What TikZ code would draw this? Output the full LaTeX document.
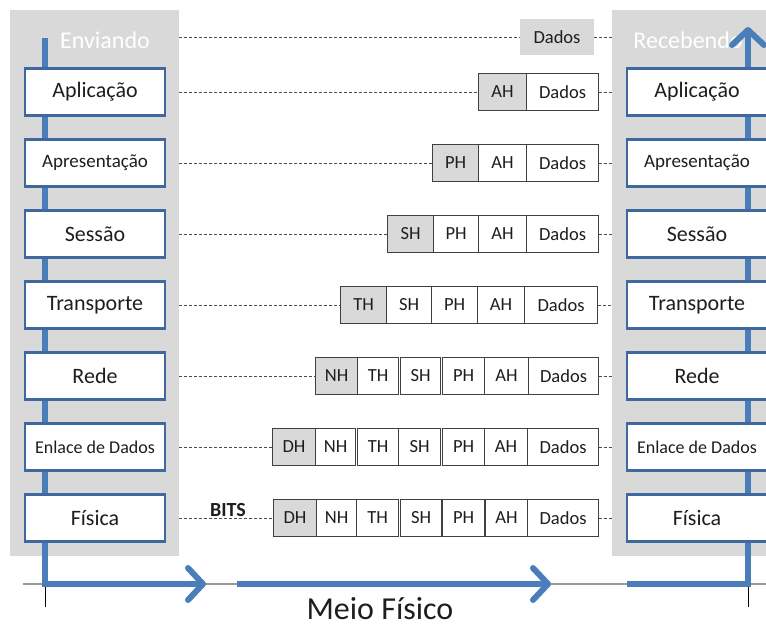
\documentclass[tikz,border=0pt]{standalone}
\usepackage{fontspec}
\setmainfont{Carlito}
\usetikzlibrary{arrows.meta}

\definecolor{painel}{RGB}{217,217,217}
\definecolor{cinza}{RGB}{217,217,217}
\definecolor{azul}{RGB}{74,126,187}
\definecolor{borda}{RGB}{62,104,158}
\definecolor{texto}{RGB}{30,30,30}

\tikzset{
  painelbox/.style={fill=painel, inner sep=0pt, anchor=north west},
  camada/.style={draw=borda, line width=2.6pt, fill=white, minimum width=140pt,
    minimum height=47pt, inner sep=0pt, text=texto},
  cel/.style={draw=black!75, line width=1.1pt, minimum height=37pt, inner sep=0pt,
    anchor=west, text=texto, font=\fontsize{18.5}{20}\selectfont},
  tracejado/.style={black!70, line width=0.9pt, dash pattern=on 3pt off 2pt},
  fluxo/.style={azul, line width=6pt},
  ponta/.style={-{Straight Barb[length=15pt,width=32pt,round]}},
  fino/.style={line width=1.2pt}
}

\begin{document}
\begin{tikzpicture}[x=1pt, y=-1pt]
  \useasboundingbox (0,0) rectangle (766,624);
  \clip (0,0) rectangle (766,624);

  % paineis
  \node[painelbox, minimum width=169pt, minimum height=546pt] (envio) at (10,10) {};
  \node[painelbox, minimum width=170pt, minimum height=546pt] (receb) at (612,10) {};
  \node[text=white, font=\fontsize{24}{24}\selectfont] (enviando) at (105,40) {Enviando};
  \node[text=white, font=\fontsize{24}{24}\selectfont] (recebendo) at (688,40) {Recebendo};

  % meio fisico
  \draw[gray!80, fino] (23,584) -- (766,584);
  \draw[black, line width=0.8pt] (45,584) -- (45,607);
  \draw[black, line width=0.8pt] (748,584) -- (748,607);
  \node[font=\fontsize{32}{32}\selectfont, text=texto, inner sep=0pt, anchor=base] (meio) at (380,619) {Meio Físico};

  % fluxo azul
  \coordinate (ini) at (45,38);
  \coordinate (dobraE) at (45,584);
  \coordinate (setaA) at (206,584);
  \coordinate (meioA) at (237,584);
  \coordinate (meioB) at (551,584);
  \coordinate (iniR) at (627,584);
  \coordinate (dobraR) at (748,584);
  \coordinate (fim) at (748,27);
  \draw[fluxo, ponta] (ini) -- (dobraE) -- (setaA);
  \draw[fluxo, ponta] (meioA) -- (meioB);
  \draw[fluxo, ponta] (iniR) -- (dobraR) -- (fim);

  % camadas
  \foreach \nome/\y/\txt/\tam in {apl/92/Aplicação/22, aps/163/Apresentação/19,
      ses/234/Sessão/22, tra/305/Transporte/22, red/376/Rede/22,
      enl/447/Enlace de Dados/18, fis/518/Física/22}
  {
    \node[camada, font=\fontsize{\tam}{\tam}\selectfont] (\nome-e) at (95,\y) {\txt};
    \node[camada, font=\fontsize{\tam}{\tam}\selectfont] (\nome-r) at (697,\y) {\txt};
  }

  % pacotes
  \node[fill=cinza, minimum width=74pt, minimum height=36pt, inner sep=0pt,
    text=texto, font=\fontsize{18.5}{20}\selectfont] (dados0) at (557,37) {Dados};
  \foreach \nome/\y/\lista in {
      apl/92/{AH/478/526/cinza, Dados/526/598/white},
      aps/163/{PH/432/478/cinza, AH/478/526/white, Dados/526/598/white},
      ses/234/{SH/387/433/cinza, PH/433/478/white, AH/478/526/white, Dados/526/598/white},
      tra/305/{TH/340/386/cinza, SH/386/431/white, PH/431/477/white, AH/477/524/white, Dados/524/597/white},
      red/376/{NH/315/357/cinza, TH/357/398/white, SH/400/440/white, PH/442/484/white, AH/484/528/white, Dados/528/598/white},
      enl/447/{DH/272/315/cinza, NH/315/355/white, TH/357/398/white, SH/398/440/white, PH/442/484/white, AH/484/527/white, Dados/527/598/white},
      fis/518/{DH/273/316/cinza, NH/316/356/white, TH/356/398/white, SH/400/441/white, PH/442/484/white, AH/485/527/white, Dados/527/598/white}}
  {
    \foreach \txt/\xa/\xb/\cor in \lista
      \node[cel, fill=\cor, minimum width={(\xb-\xa)*1pt}] (\nome-\txt) at (\xa,\y) {\txt};
  }

  % linhas tracejadas
  \draw[tracejado] (dados0 -| envio.east) -- (dados0.west);
  \draw[tracejado] (dados0.east) -- (dados0 -| receb.west);
  \foreach \nome/\hd in {apl/AH, aps/PH, ses/SH, tra/TH, red/NH, enl/DH, fis/DH}
  {
    \draw[tracejado] (\nome-e -| envio.east) -- (\nome-\hd.west);
    \draw[tracejado] (\nome-Dados.east) -- (\nome-r -| receb.west);
  }

  \node[font=\bfseries\fontsize{20}{20}\selectfont, text=texto] (bits) at (228,510) {BITS};
\end{tikzpicture}
\end{document}
